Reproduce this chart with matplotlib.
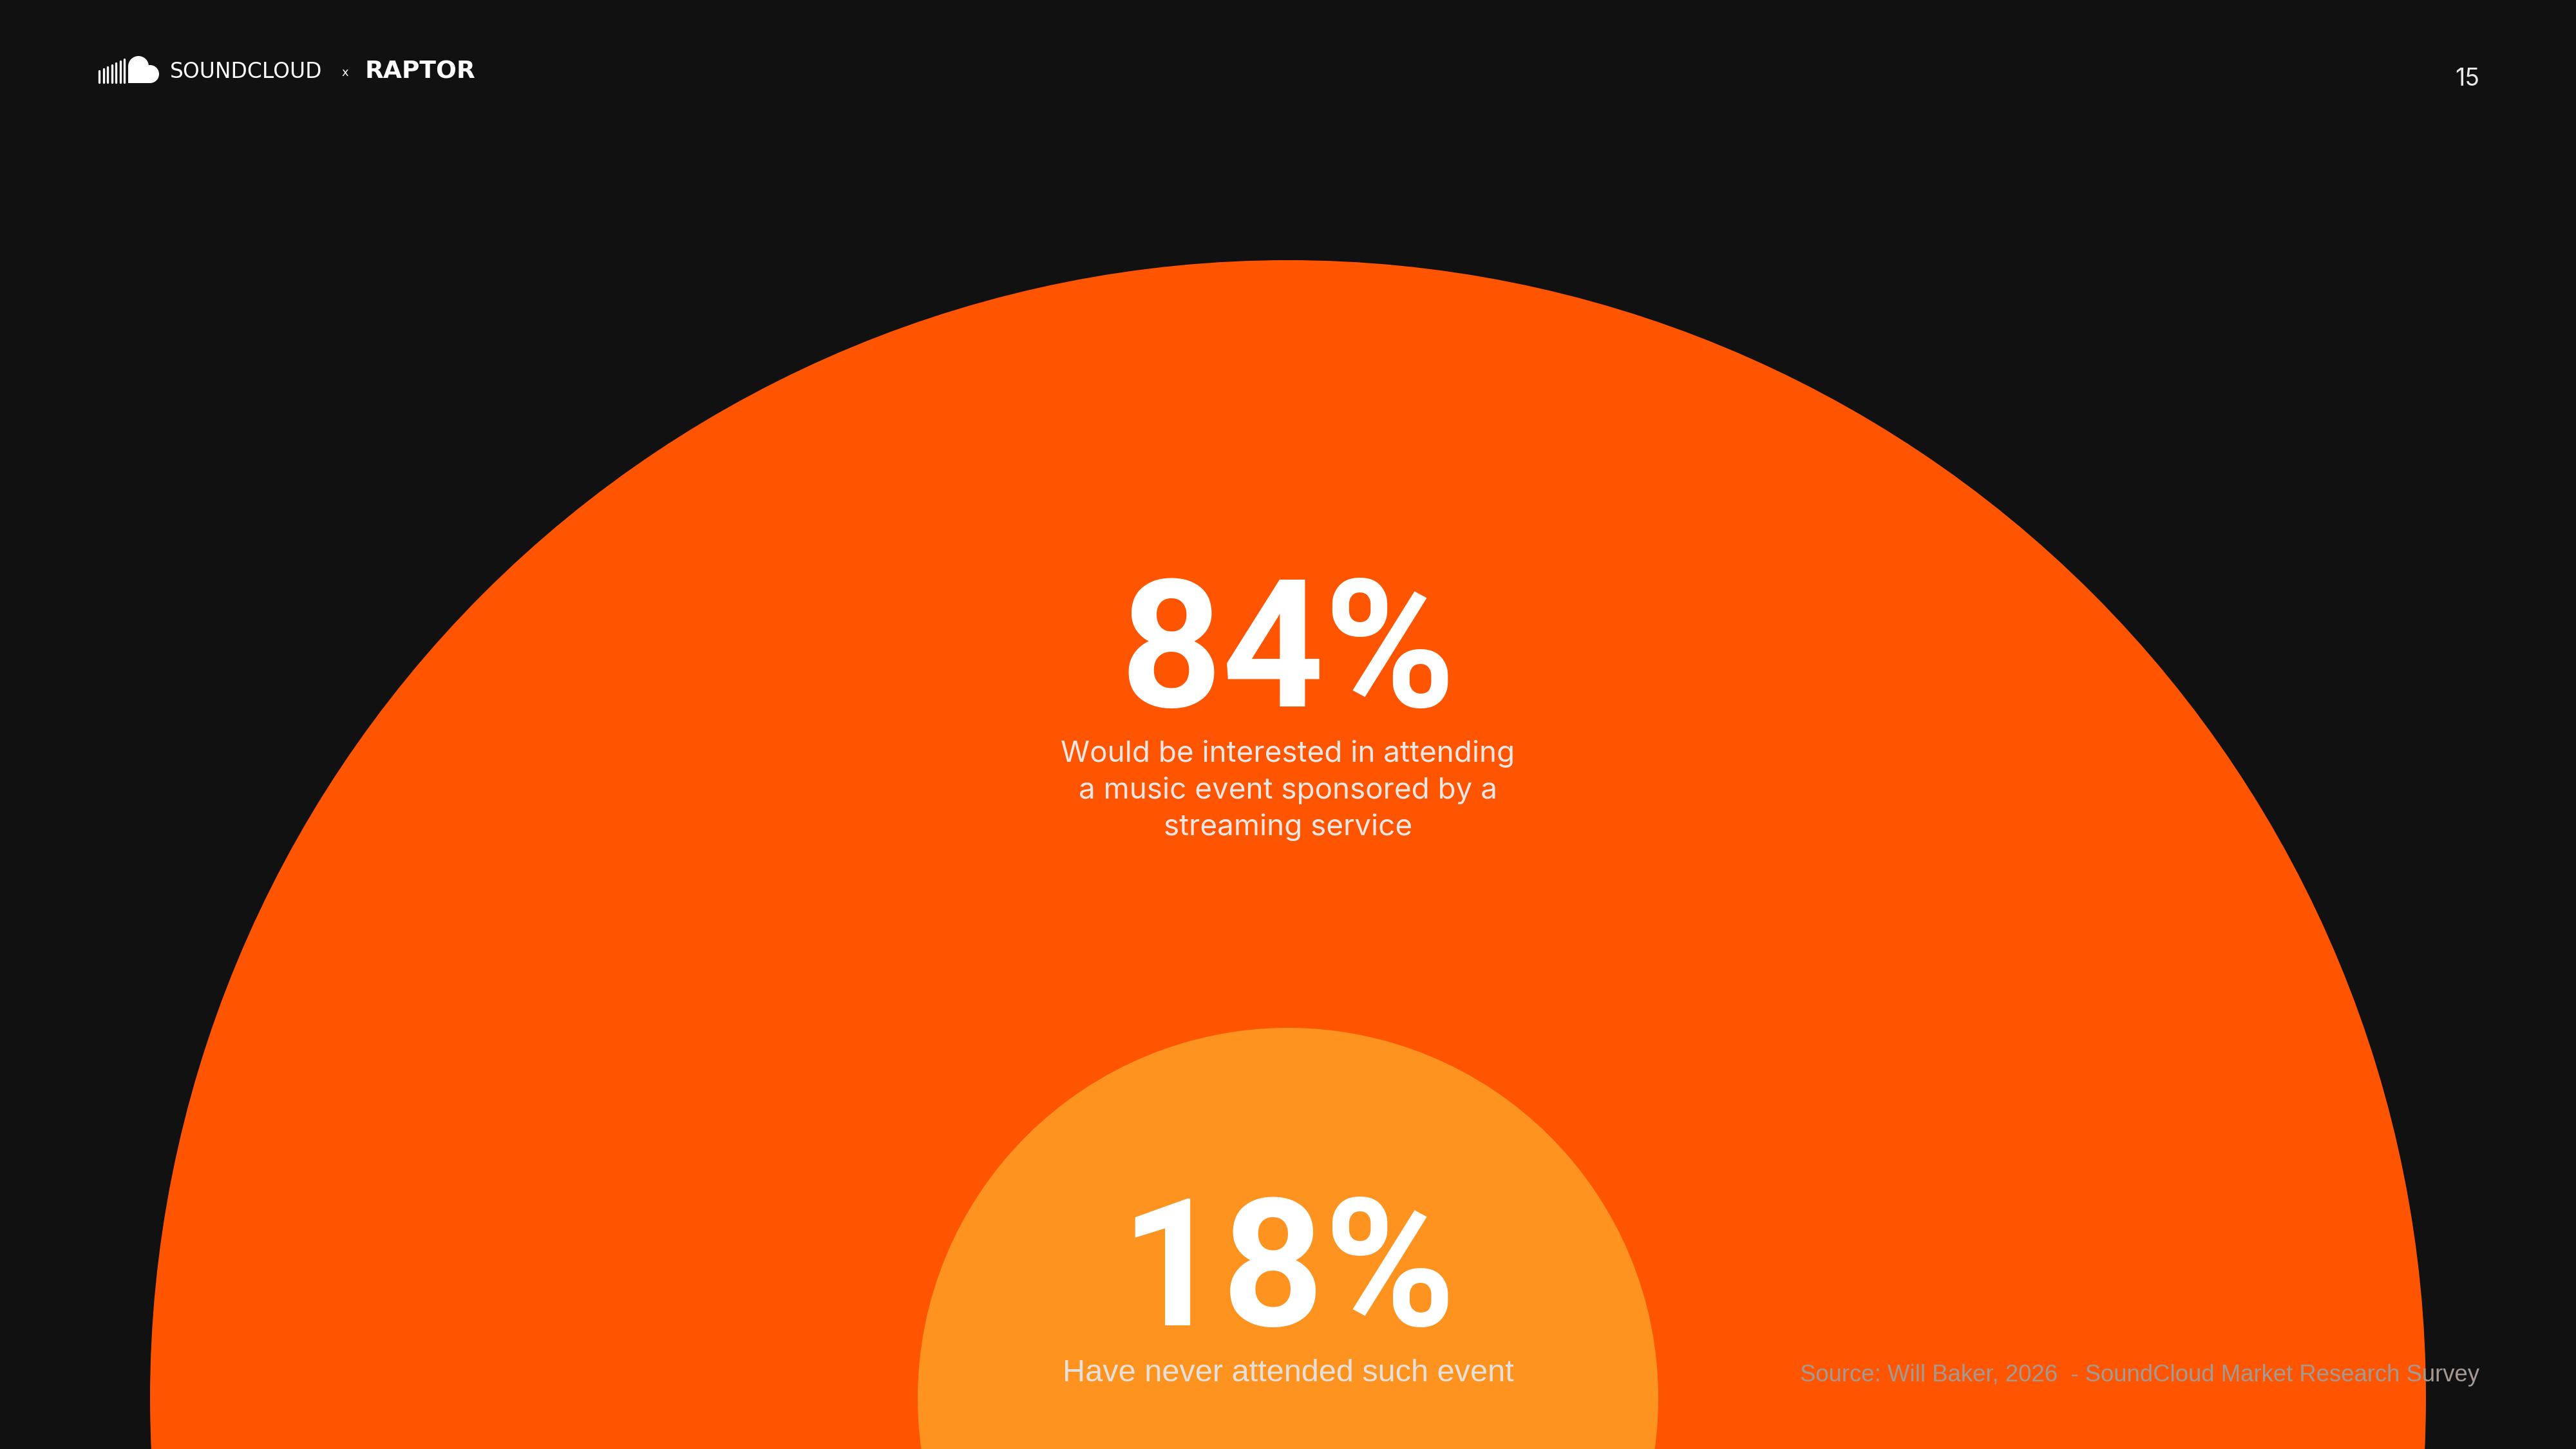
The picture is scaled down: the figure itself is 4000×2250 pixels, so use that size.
import matplotlib
matplotlib.use("Agg")
import matplotlib.pyplot as plt
from matplotlib.patches import Circle, Rectangle

# ---- data ----
categories = ["interested", "never_attended"]
values = [84, 18]
labels = ["Would be interested in attending\na music event sponsored by a\nstreaming service",
          "Have never attended such event"]
source_text = "Source: Will Baker, 2026  - SoundCloud Market Research Survey"
page_number = "15"

# ---- layout / style ----
W, H = 4000, 2250
BG = "#111111"
circle_colors = ["#FF5500", "#FF9320"]
circle_radius = [1767, 575]
center = (2000, 2171)

fig = plt.figure(figsize=(40, 22.5), dpi=100, facecolor=BG)
ax = fig.add_axes([0, 0, 1, 1])
ax.set_xlim(0, W)
ax.set_ylim(H, 0)
ax.set_aspect("equal")
ax.axis("off")
ax.set_facecolor(BG)

for r, c in zip(circle_radius, circle_colors):
    ax.add_patch(Circle(center, r, facecolor=c, edgecolor="none", zorder=1))

# big numbers
num_baselines = [1097, 2058]
for v, yb in zip(values, num_baselines):
    ax.text(2000, yb, f"{v}%", ha="center", va="baseline", fontsize=199,
            fontweight="bold", family="Roboto", color="white", zorder=3)

# subtitles
sub_lines = labels[0].split("\n")
sub_baselines = [1183, 1240, 1297]
for line, yb in zip(sub_lines, sub_baselines):
    ax.text(2000, yb, line, ha="center", va="baseline", fontsize=33,
            family="Inter", color="#EDE6E2", zorder=3)
ax.text(2000, 2145, labels[1], ha="center", va="baseline", fontsize=35,
        family="Liberation Sans", color="#E6E0DA", zorder=3)

# source
ax.text(3850, 2145, source_text, ha="right", va="baseline", fontsize=26.3,
        family="Liberation Sans", color="#A39A94", zorder=3)

# page number
ax.text(3850, 133, page_number, ha="right", va="baseline", fontsize=27,
        family="Inter", color="#E8E8E8", zorder=3)

# ---- logo ----
bar_x = [154, 160.5, 167, 173.5, 180, 186.5, 193]
bar_top = [110, 107, 104, 101, 98, 95, 92]
for bx, bt in zip(bar_x, bar_top):
    ax.plot([bx, bx], [bt, 128], color="white", lw=2.4, solid_capstyle="round", zorder=3)
ax.add_patch(Rectangle((199, 106), 34, 23, facecolor="white", edgecolor="none", zorder=3))
ax.add_patch(Circle((215, 103), 16, facecolor="white", edgecolor="none", zorder=3))
ax.add_patch(Rectangle((199, 103), 10, 10, facecolor="white", edgecolor="none", zorder=3))
ax.add_patch(Circle((233, 115), 14, facecolor="white", edgecolor="none", zorder=3))

ax.text(264, 121, "SOUNDCLOUD", ha="left", va="baseline", fontsize=23.7,
        family="DejaVu Sans", fontweight="normal", color="white", zorder=3)
ax.text(536, 118, "x", ha="center", va="baseline", fontsize=13,
        family="DejaVu Sans", color="white", zorder=3)
ax.text(567, 121, "RAPTOR", ha="left", va="baseline", fontsize=27,
        family="DejaVu Sans", fontweight="bold", color="white", zorder=3)

fig.savefig("out.png", dpi=100, facecolor=BG)
